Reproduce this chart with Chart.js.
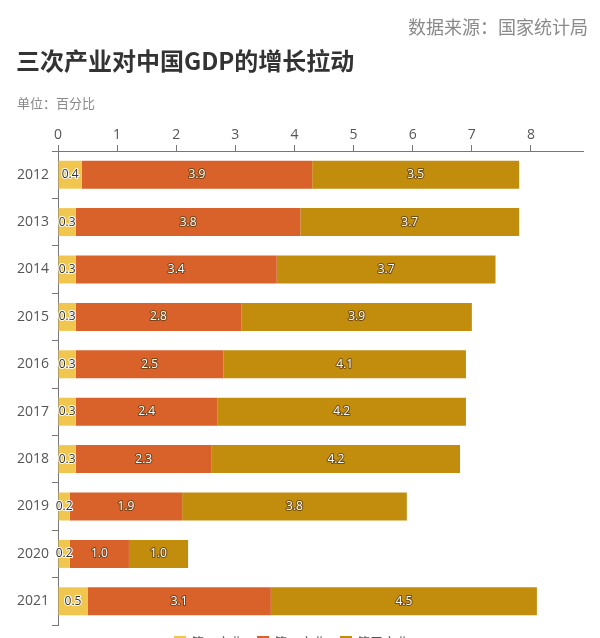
<!DOCTYPE html>
<html>
<head>
<meta charset="utf-8">
<script src="https://cdn.jsdelivr.net/npm/chart.js@4"></script>
<style>
  html, body { margin: 0; padding: 0; background: #fff; overflow: hidden; }
  body { width: 600px; height: 638px; position: relative; font-family: "Noto Sans CJK SC", "Noto Sans", sans-serif; }
  #wrap { position: absolute; left: 0; top: 0; width: 600px; height: 638px; }
  .txt { position: absolute; white-space: nowrap; }
  #source { right: 12px; top: 13px; font-size: 18px; color: #8a8a8a; }
  #title { left: 16px; top: 42px; font-size: 24px; font-weight: bold; color: #333; }
  #unit { left: 17px; top: 93px; font-size: 13px; color: #888; }
  #legend { left: 160px; top: 632px; font-size: 13px; color: #555; }
  #legend span.sq { display: inline-block; width: 12px; height: 12px; vertical-align: -1px; margin: 0 5px 0 14px; }
</style>
</head>
<body>
<div id="wrap"><canvas id="BarChart"></canvas></div>
<div class="txt" id="source">数据来源：国家统计局</div>
<div class="txt" id="title">三次产业对中国GDP的增长拉动</div>
<div class="txt" id="unit">单位：百分比</div>
<div class="txt" id="legend"></div>
<script>
const years = ["2012", "2013", "2014", "2015", "2016", "2017", "2018", "2019", "2020", "2021"];
const primary = [0.4, 0.3, 0.3, 0.3, 0.3, 0.3, 0.3, 0.2, 0.2, 0.5];
const secondary = [3.9, 3.8, 3.4, 2.8, 2.5, 2.4, 2.3, 1.9, 1.0, 3.1];
const tertiary = [3.5, 3.7, 3.7, 3.9, 4.1, 4.2, 4.2, 3.8, 1.0, 4.5];
const seriesNames = ["第一产业", "第二产业", "第三产业"];
const colors = ["#F0C64E", "#D9622B", "#C28C0C"];

// html legend (mostly below the visible window, like the reference)
const LEGEND = document.getElementById("legend");
seriesNames.forEach(function (n, i) {
  LEGEND.innerHTML += '<span class="sq" style="background:' + colors[i] + '"></span>' + n;
});

// draw value labels in the middle of each segment
const segLabels = {
  id: "segLabels",
  afterDatasetsDraw(chart) {
    const ctx = chart.ctx;
    ctx.save();
    ctx.font = "12px 'Open Sans', sans-serif";
    ctx.textAlign = "center";
    ctx.textBaseline = "middle";
    ctx.lineJoin = "round";
    chart.data.datasets.forEach(function (ds, i) {
      chart.getDatasetMeta(i).data.forEach(function (bar, j) {
        const x = (bar.x + bar.base) / 2;
        const t = ds.data[j].toFixed(1);
        ctx.lineWidth = 2;
        if (i === 0) {
          ctx.strokeStyle = "#fff";
          ctx.fillStyle = "#333";
        } else {
          ctx.strokeStyle = "rgba(90,60,20,0.8)";
          ctx.fillStyle = "#fff";
        }
        ctx.strokeText(t, x, bar.y);
        ctx.fillText(t, x, bar.y);
      });
    });
    ctx.restore();
  }
};

const CHART = document.getElementById("BarChart");

let BarChart = new Chart(CHART, {
  type: 'bar',
  data: {
    labels: years,
    datasets: [
      { label: seriesNames[0], data: primary, backgroundColor: colors[0] },
      { label: seriesNames[1], data: secondary, backgroundColor: colors[1] },
      { label: seriesNames[2], data: tertiary, backgroundColor: colors[2] }
    ]
  },
  options: {
    indexAxis: 'y',
    responsive: true,
    maintainAspectRatio: false,
    animation: false,
    datasets: { bar: { categoryPercentage: 1, barPercentage: 0.59, borderWidth: 0 } },
    layout: { padding: { top: 121, bottom: 13, right: 17, left: 0 } },
    plugins: { legend: { display: false }, tooltip: { enabled: false } },
    scales: {
      x: {
        position: 'top',
        stacked: true,
        min: 0,
        max: 8.88,
        afterBuildTicks: function (scale) {
          scale.ticks = scale.ticks.filter(function (t) { return Number.isInteger(t.value); });
        },
        afterFit: function (scale) { scale.height = 30; },
        ticks: { stepSize: 1, color: "#555", font: { size: 14, family: "'Open Sans', sans-serif" }, padding: 2 },
        grid: { drawOnChartArea: false, drawTicks: true, tickLength: 6, color: "#777" },
        border: { color: "#777" }
      },
      y: {
        stacked: true,
        afterFit: function (scale) { scale.width = 58; },
        ticks: { color: "#555", font: { size: 14, family: "'Open Sans', sans-serif" }, padding: 3 },
        grid: { drawOnChartArea: false, drawTicks: true, tickLength: 6, color: "#777" },
        border: { color: "#777" }
      }
    }
  },
  plugins: [segLabels]
});
</script>
</body>
</html>
